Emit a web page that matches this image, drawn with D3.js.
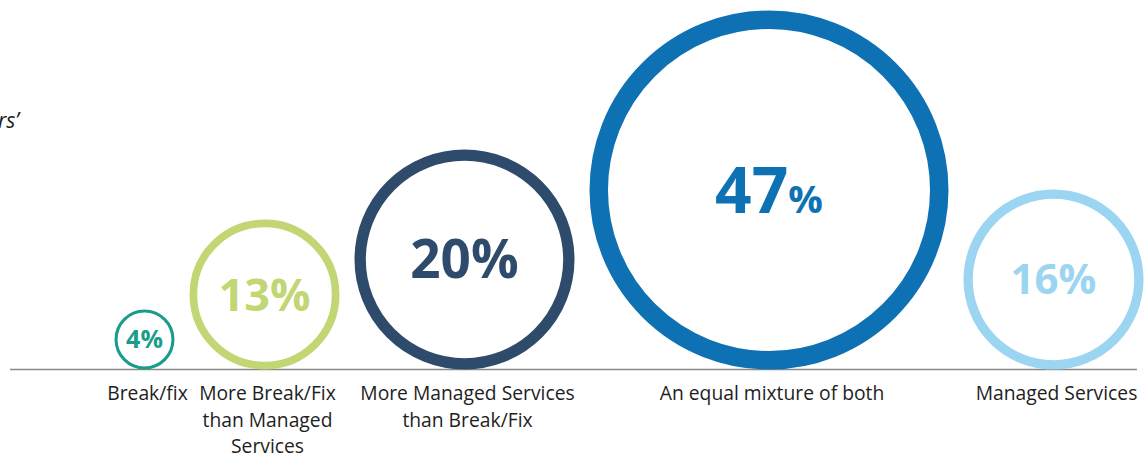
<!DOCTYPE html>
<html>
<head>
<meta charset="utf-8">
<script src="https://cdn.jsdelivr.net/npm/d3@7"></script>
<style>
  html, body { margin: 0; padding: 0; background: #fff; }
  svg { display: block; font-family: "Open Sans", "Noto Sans", sans-serif; }
</style>
</head>
<body>
<svg id="chart" width="1148" height="459"></svg>
<script>
// Survey answers: share of respondents per service model
const categories = [
  "Break/fix",
  "More Break/Fix\nthan Managed\nServices",
  "More Managed Services\nthan Break/Fix",
  "An equal mixture of both",
  "Managed Services"
];
const shares = [4, 13, 20, 47, 16];

// Ring colours, one per category
const colors = ["#199c8b", "#c3d674", "#2f4b6b", "#0e71b4", "#9bd5f1"];
// Percentage font size inside each ring
const labelSizes = [25, 45, 53, 64, 42];

const svg = d3.select("#chart");
const baseY = 369.5;      // ground line the rings stand on
const startX = 114.5;     // left edge of the first ring
const gap = 15;           // space between neighbouring rings

// Outer ring radius from the share
const r = d3.scaleLinear().domain([4, 20, 47]).range([30, 110, 179.5]);

// Lay rings side by side, left to right
let cursor = startX;
const rings = shares.map((v, i) => {
  const R = r(v);
  const cx = cursor + R;
  cursor += 2 * R + gap;
  return { v, i, R, cx, cy: baseY - R, sw: R * 0.103 };
});

// Heading fragment running in from the left edge
svg.append("text")
  .attr("x", -2).attr("y", 128)
  .attr("font-size", 21).attr("font-style", "italic")
  .attr("fill", "#1a1a1a")
  .text("rs’");

// Baseline
svg.append("line")
  .attr("x1", 10).attr("x2", 1137)
  .attr("y1", baseY).attr("y2", baseY)
  .attr("stroke", "#8a8a8a").attr("stroke-width", 1.6);

// Rings
svg.selectAll("circle.ring").data(rings).join("circle")
  .attr("class", "ring")
  .attr("cx", d => d.cx)
  .attr("cy", d => d.cy)
  .attr("r", d => d.R - d.sw / 2)
  .attr("fill", "none")
  .attr("stroke", d => colors[d.i])
  .attr("stroke-width", d => d.sw);

// Percentages centred in each ring (cap height of Open Sans ≈ 0.714em)
const maxShare = d3.max(shares);
svg.selectAll("text.pct").data(rings).join("text")
  .attr("class", "pct")
  .attr("x", d => d.cx)
  .attr("y", d => d.cy + labelSizes[d.i] * 0.714 / 2)
  .attr("text-anchor", "middle")
  .attr("font-weight", 700)
  .attr("font-size", d => labelSizes[d.i])
  .attr("fill", d => colors[d.i])
  .each(function (d) {
    const t = d3.select(this);
    t.append("tspan").text(d.v);
    t.append("tspan")
      .attr("font-size", d.v === maxShare ? labelSizes[d.i] * 0.6 : labelSizes[d.i])
      .text("%");
  });

// Category names under the baseline
const labelShift = 3;
svg.selectAll("text.cat").data(rings).join("text")
  .attr("class", "cat")
  .attr("x", d => d.cx + labelShift)
  .attr("y", 400)
  .attr("text-anchor", "middle")
  .attr("font-size", 19.3)
  .attr("fill", "#1e1e1e")
  .each(function (d) {
    const t = d3.select(this);
    categories[d.i].split("\n").forEach((line, k) => {
      t.append("tspan")
        .attr("x", d.cx + labelShift)
        .attr("dy", k === 0 ? 0 : 26.5)
        .text(line);
    });
  });
</script>
</body>
</html>
